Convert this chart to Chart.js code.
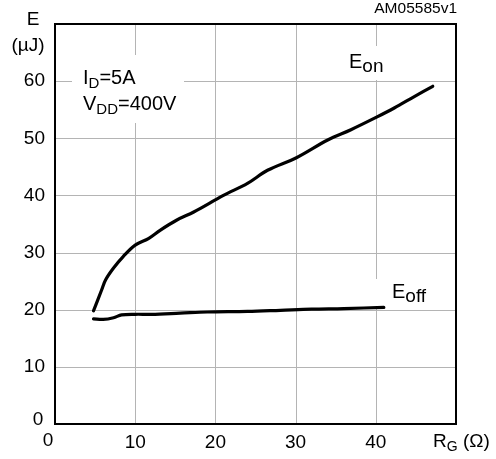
<!DOCTYPE html>
<html>
<head>
<meta charset="utf-8">
<script src="https://cdn.jsdelivr.net/npm/chart.js@4"></script>
<style>
  html, body { margin: 0; padding: 0; background: #fff; }
  canvas { position: absolute; left: 0; top: 0; }
  #under { z-index: 0; }
  #myChart { z-index: 1; }
  #over { z-index: 2; }
</style>
</head>
<body>
<canvas id="under" width="496" height="459"></canvas>
<canvas id="myChart" width="496" height="459"></canvas>
<canvas id="over" width="496" height="459"></canvas>
<script>
// values
const rgOn = [4.8, 5.8, 6.3, 7.3, 8.5, 10, 11.7, 13.1, 15.2, 17.3, 21, 24, 26.5, 30.1, 34, 36.9, 40.1, 42.3, 44.8, 47.1];
const eOn = [19.8, 23.4, 25.2, 27.3, 29.3, 31.3, 32.5, 33.9, 35.7, 37.1, 40, 42.1, 44.4, 46.6, 49.7, 51.5, 53.7, 55.3, 57.3, 59.1];
const rgOff = [4.8, 6, 7.3, 8.3, 10, 12, 15.6, 19, 24, 28.1, 32, 36, 41];
const eOff = [18.4, 18.3, 18.6, 19.1, 19.2, 19.2, 19.4, 19.6, 19.7, 19.9, 20.1, 20.2, 20.4];
const xTicks = [0, 10, 20, 30, 40, 50];
const yTicks = [0, 10, 20, 30, 40, 50, 60, 70];

const FONT = '"Liberation Sans", Arial, sans-serif';

function pts(xs, ys) {
  return xs.map((x, i) => ({ x: x, y: ys[i] }));
}

// pixel of a value, with a linear fallback if the scale gives no number
function px(scale, v, lo, hi, pLo, pHi) {
  const p = scale.getPixelForValue(v);
  if (Number.isFinite(p)) return Math.round(p);
  return Math.round(pLo + (v - lo) / (hi - lo) * (pHi - pLo));
}

function xPx(chart, v) { return px(chart.scales.x, v, 0, 50, 55, 456); }
function yPx(chart, v) { return px(chart.scales.y, v, 0, 70, 424, 24); }

// text with a lowered subscript part
function subText(c, x, y, main, sub, size, subSize, drop, after) {
  c.font = size + 'px ' + FONT;
  c.fillText(main, x, y);
  let w = c.measureText(main).width;
  c.font = subSize + 'px ' + FONT;
  c.fillText(sub, x + w, y + drop);
  w += c.measureText(sub).width;
  if (after) {
    c.font = size + 'px ' + FONT;
    c.fillText(after, x + w, y);
  }
}

function drawGrid(c, chart) {
  const l = xPx(chart, 0), r = xPx(chart, 50);
  const t = yPx(chart, 70), b = yPx(chart, 0);
  c.save();
  c.fillStyle = '#b4b4b4';
  xTicks.forEach(v => c.fillRect(xPx(chart, v), t, 1, b - t));
  yTicks.forEach(v => c.fillRect(l, yPx(chart, v), r - l, 1));
  // white patches behind the notes
  c.fillStyle = '#fff';
  c.fillRect(72, 55, 112, 68);
  c.fillRect(344, 46, 48, 34);
  c.fillRect(372, 279, 68, 27);
  c.restore();
}

function drawFrame(c, chart) {
  const l = xPx(chart, 0), r = xPx(chart, 50);
  const t = yPx(chart, 70), b = yPx(chart, 0);
  c.save();
  c.strokeStyle = '#000';
  c.lineWidth = 2;
  c.strokeRect(l, t, r - l, b - t);
  c.restore();
}

const notes = {
  id: 'notes',
  afterDraw(chart) {
    const c = chart.ctx;
    c.save();
    c.fillStyle = '#000';
    c.textBaseline = 'middle';
    c.textAlign = 'center';
    c.font = '19px ' + FONT;
    c.fillText('E', 33, 20);
    c.fillText('(\u00b5J)', 28, 46);
    // zeros at the corner
    c.fillText('0', 38, 420);
    c.fillText('0', xPx(chart, 0) - 7, 441);

    c.textAlign = 'right';
    c.font = '15.5px ' + FONT;
    c.fillText('AM05585v1', 457, 9);

    c.textAlign = 'left';
    subText(c, 433, 442, 'R', 'G', 19, 14, 5, ' (\u03a9)');
    subText(c, 83, 78, 'I', 'D', 20, 15, 6, '=5A');
    subText(c, 83, 104, 'V', 'DD', 20, 15, 6, '=400V');
    subText(c, 349, 62, 'E', 'on', 20, 19, 5);
    subText(c, 392, 292, 'E', 'off', 20, 19, 5);
    c.restore();
  }
};

const myChart = new Chart(document.getElementById('myChart'), {
  type: 'line',
  data: {
    datasets: [{
      label: 'Eon',
      data: pts(rgOn, eOn),
      borderColor: '#000',
      borderWidth: 3.2,
      pointRadius: 0,
      tension: 0.35,
      borderCapStyle: 'round'
    }, {
      label: 'Eoff',
      data: pts(rgOff, eOff),
      borderColor: '#000',
      borderWidth: 3.2,
      pointRadius: 0,
      tension: 0.35,
      borderCapStyle: 'round'
    }]
  },
  options: {
    responsive: false,
    animation: false,
    layout: { padding: { left: 0, top: 24, right: 40, bottom: 0 } },
    plugins: { legend: { display: false }, tooltip: { enabled: false } },
    scales: {
      x: {
        type: 'linear',
        min: 0, max: 50,
        afterBuildTicks(s) { s.ticks = xTicks.map(v => ({ value: v })); },
        afterFit(s) { s.height = 35; },
        grid: { display: false, drawTicks: false },
        border: { display: false },
        ticks: {
          padding: 7,
          color: '#000',
          font: { family: FONT, size: 19 },
          maxRotation: 0,
          callback: v => (v === 0 || v === 50) ? '' : String(v)
        }
      },
      y: {
        type: 'linear',
        min: 0, max: 70,
        afterBuildTicks(s) { s.ticks = yTicks.map(v => ({ value: v })); },
        afterFit(s) { s.width = 55; },
        grid: { display: false, drawTicks: false },
        border: { display: false },
        ticks: {
          padding: 10,
          color: '#000',
          font: { family: FONT, size: 19 },
          callback: v => (v === 0 || v === 70) ? '' : String(v)
        }
      }
    }
  },
  plugins: [notes]
});

// grid under the chart canvas, frame over it
drawGrid(document.getElementById('under').getContext('2d'), myChart);
drawFrame(document.getElementById('over').getContext('2d'), myChart);
</script>
</body>
</html>
